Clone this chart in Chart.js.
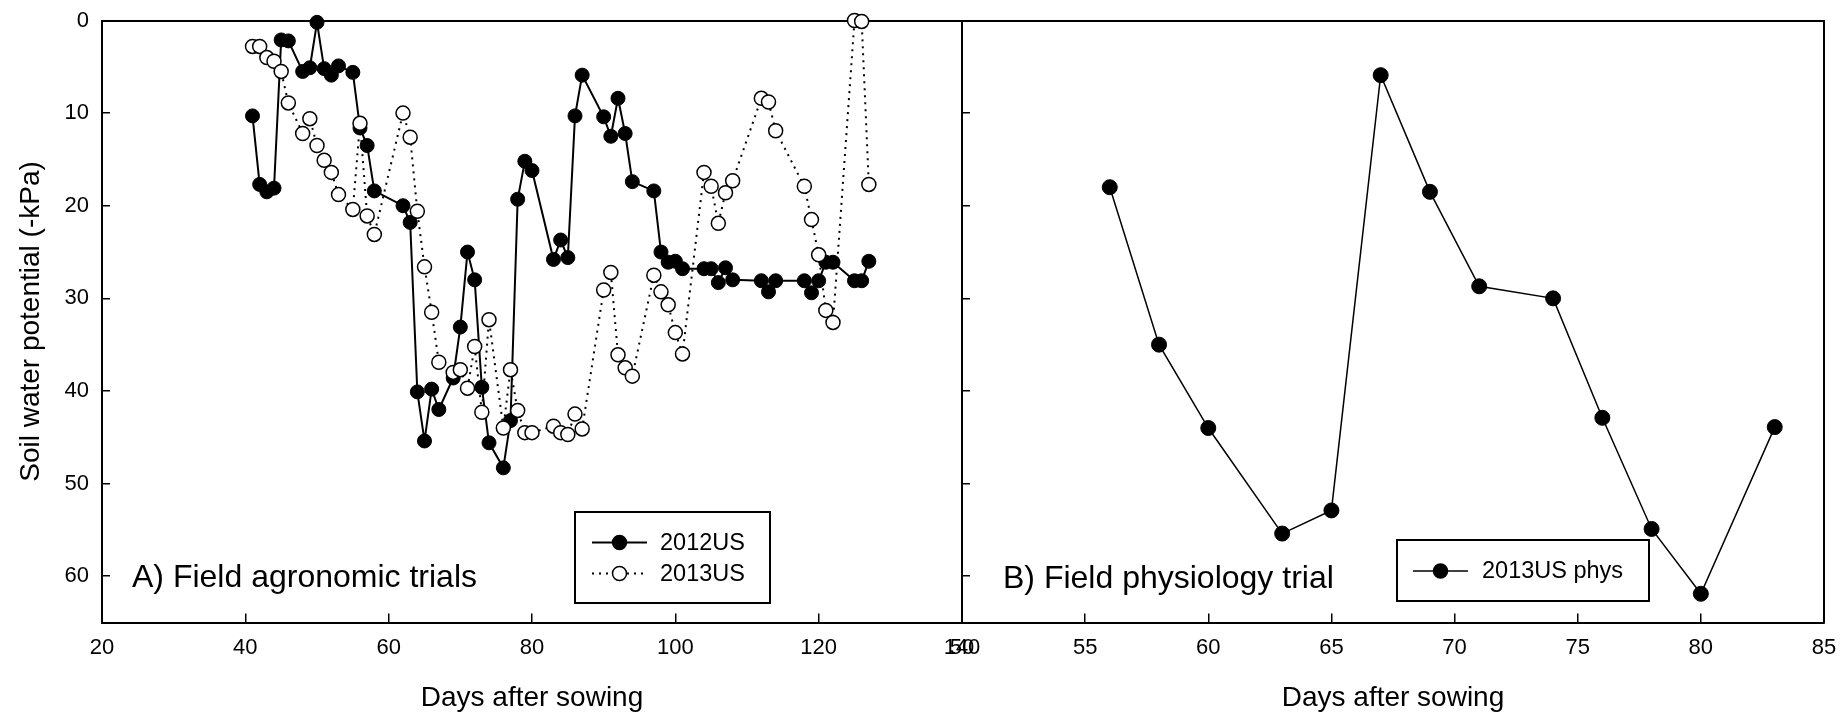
<!DOCTYPE html>
<html>
<head>
<meta charset="utf-8">
<script src="https://cdn.jsdelivr.net/npm/chart.js@4.4.1/dist/chart.umd.min.js"></script>
<style>
  body { margin: 0; background: #fff; }
  #wrap { position: relative; width: 1842px; height: 716px; }
  #wrap canvas { position: absolute; left: 0; top: 0; }
</style>
</head>
<body>
<div id="wrap">
  <canvas id="panelA" width="1842" height="716"></canvas>
  <canvas id="panelB" width="1842" height="716"></canvas>
</div>
<script>
// Panel A - field agronomic trials (both years sampled on the same days)
var daysA = [41, 42, 43, 44, 45, 46, 48, 49, 50, 51, 52, 53, 55, 56, 57, 58,
  62, 63, 64, 65, 66, 67, 69, 70, 71, 72, 73, 74, 76, 77, 78, 79, 80,
  83, 84, 85, 86, 87, 90, 91, 92, 93, 94, 97, 98, 99, 100, 101,
  104, 105, 106, 107, 108, 112, 113, 114, 118, 119, 120, 121, 122, 125, 126, 127];
var swp2012 = [10.3, 17.7, 18.5, 18.1, 2.1, 2.2, 5.5, 5.1, 0.2, 5.2, 5.9, 4.9, 5.6, 11.6, 13.5, 18.4,
  20.0, 21.8, 40.1, 45.4, 39.8, 42.0, 38.6, 33.1, 25.0, 28.0, 39.6, 45.6, 48.3, 43.2, 19.3, 15.2, 16.2,
  25.8, 23.7, 25.6, 10.3, 5.9, 10.4, 12.5, 8.4, 12.2, 17.4, 18.4, 25.0, 26.1, 26.0, 26.8,
  26.8, 26.8, 28.3, 26.7, 28.0, 28.1, 29.3, 28.1, 28.1, 29.4, 28.1, 26.1, 26.1, 28.1, 28.1, 26.0];
var swp2013 = [2.8, 2.8, 4.0, 4.4, 5.5, 8.9, 12.2, 10.6, 13.5, 15.1, 16.4, 18.8, 20.4, 11.1, 21.1, 23.1,
  10.0, 12.6, 20.6, 26.6, 31.5, 36.9, 38.0, 37.7, 39.7, 35.2, 42.3, 32.3, 44.0, 37.7, 42.1, 44.5, 44.5,
  43.8, 44.5, 44.7, 42.5, 44.1, 29.1, 27.2, 36.1, 37.5, 38.4, 27.5, 29.3, 30.7, 33.7, 36.0,
  16.4, 17.9, 21.9, 18.6, 17.3, 8.4, 8.8, 11.9, 17.9, 21.5, 25.3, 31.3, 32.6, 0.0, 0.1, 17.7];

// Panel B - field physiology trial
var daysB = [56, 58, 60, 63, 65, 67, 69, 71, 74, 76, 78, 80, 83];
var swpPhys = [18, 35, 44, 55.4, 52.9, 5.9, 18.5, 28.7, 30, 42.9, 54.9, 61.9, 43.9];

// axis ranges / tick steps
var xTicksA = { min: 20, max: 140, step: 20 };
var xTicksB = { min: 50, max: 85, step: 5 };
var yTicks = { min: 0, max: 65, step: 10 };

var FONT = "'Liberation Sans', Arial, sans-serif";
Chart.defaults.font.family = FONT;
Chart.defaults.color = '#000';

function toPoints(xs, ys) {
  var pts = [];
  for (var i = 0; i < xs.length; i++) {
    pts.push({ x: xs[i], y: ys[i] });
  }
  return pts;
}

// force a scale box to a given thickness so both panels line up,
// and drop the label overflow padding so the plot areas stay put
function fixedSize(size) {
  return function (scale) {
    if (scale.isHorizontal()) scale.height = size;
    else scale.width = size;
    scale.paddingTop = 0;
    scale.paddingBottom = 0;
    scale.paddingLeft = 0;
    scale.paddingRight = 0;
  };
}

function frameAxis(pos, size) {
  return {
    type: 'linear', position: pos, min: 0, max: 1,
    afterFit: fixedSize(size),
    ticks: { display: false },
    grid: { drawOnChartArea: false, drawTicks: false },
    border: { color: '#000', width: 2 }
  };
}

function xAxis(range) {
  return {
    type: 'linear', position: 'bottom', min: range.min, max: range.max,
    afterFit: fixedSize(93.5),
    ticks: { stepSize: range.step, padding: 21, font: { size: 22 }, color: '#000', maxRotation: 0, autoSkip: false },
    grid: { drawOnChartArea: false, tickLength: -9, color: '#000', lineWidth: 1.5 },
    border: { color: '#000', width: 2 },
    title: { display: true, text: 'Days after sowing', font: { size: 28 }, color: '#000', padding: { top: 0, bottom: 1 } }
  };
}

function yAxis(width, showLabels) {
  var ax = {
    type: 'linear', position: 'left', reverse: true, min: yTicks.min, max: yTicks.max,
    afterFit: fixedSize(width),
    ticks: { stepSize: yTicks.step, includeBounds: false, padding: 21, font: { size: 22 }, color: '#000', display: showLabels },
    grid: { drawOnChartArea: false, tickLength: -8, color: '#000', lineWidth: 1.5 },
    border: { color: '#000', width: 2 }
  };
  if (showLabels) {
    ax.title = { display: true, text: 'Soil water potential (-kPa)', font: { size: 28 }, color: '#000', padding: { top: 14, bottom: 0 } };
  }
  return ax;
}

// panel label + boxed legend, drawn on top of the data
function decor(label, box, entries) {
  return {
    id: 'decor',
    afterDatasetsDraw: function (chart) {
      var ctx = chart.ctx;
      ctx.save();
      ctx.fillStyle = '#000';
      ctx.font = '32px ' + FONT;
      ctx.textBaseline = 'alphabetic';
      ctx.fillText(label.text, label.x, label.y);

      ctx.fillStyle = '#fff';
      ctx.fillRect(box.x, box.y, box.w, box.h);
      ctx.strokeStyle = '#000';
      ctx.lineWidth = 2;
      ctx.strokeRect(box.x, box.y, box.w, box.h);

      ctx.font = '23.5px ' + FONT;
      ctx.textBaseline = 'middle';
      for (var i = 0; i < entries.length; i++) {
        var e = entries[i];
        var y = box.y + box.rowY[i];
        var x0 = box.x + box.lineX[0], x1 = box.x + box.lineX[1];
        ctx.beginPath();
        ctx.setLineDash(e.dash || []);
        ctx.lineWidth = e.lineWidth;
        ctx.moveTo(x0, y);
        ctx.lineTo(x1, y);
        ctx.stroke();
        ctx.setLineDash([]);
        ctx.beginPath();
        ctx.arc((x0 + x1) / 2, y, 7, 0, Math.PI * 2);
        ctx.fillStyle = e.fill;
        ctx.fill();
        ctx.lineWidth = 1.5;
        ctx.stroke();
        ctx.fillStyle = '#000';
        ctx.fillText(e.text, box.x + box.textX, y + 1);
      }
      ctx.restore();
    }
  };
}

var chartA = new Chart(document.getElementById('panelA'), {
  type: 'scatter',
  data: {
    datasets: [{
      label: '2012US',
      data: toPoints(daysA, swp2012),
      showLine: true,
      borderColor: '#000',
      borderWidth: 2,
      pointRadius: 7,
      pointBackgroundColor: '#000',
      pointBorderColor: '#000',
      pointBorderWidth: 1,
      clip: false,
      order: 2
    }, {
      label: '2013US',
      data: toPoints(daysA, swp2013),
      showLine: true,
      borderColor: '#000',
      borderWidth: 2,
      borderDash: [2, 5],
      pointRadius: 7,
      pointBackgroundColor: '#fff',
      pointBorderColor: '#000',
      pointBorderWidth: 1.5,
      clip: false,
      order: 1
    }]
  },
  options: {
    responsive: false,
    animation: false,
    layout: { padding: 0 },
    plugins: { legend: { display: false }, tooltip: { enabled: false } },
    scales: {
      x: xAxis(xTicksA),
      y: yAxis(102, true),
      xTop: frameAxis('top', 20.5),
      yRight: frameAxis('right', 880)
    }
  },
  plugins: [decor(
    { text: 'A) Field agronomic trials', x: 132, y: 587 },
    { x: 575, y: 512, w: 195, h: 91, rowY: [30.5, 61.5], lineX: [17, 72], textX: 85 },
    [{ text: '2012US', fill: '#000', lineWidth: 2 },
     { text: '2013US', fill: '#fff', lineWidth: 2, dash: [2, 5] }]
  )]
});

var chartB = new Chart(document.getElementById('panelB'), {
  type: 'scatter',
  data: {
    datasets: [{
      label: '2013US phys',
      data: toPoints(daysB, swpPhys),
      showLine: true,
      borderColor: '#000',
      borderWidth: 1.5,
      pointRadius: 7.5,
      pointBackgroundColor: '#000',
      pointBorderColor: '#000',
      pointBorderWidth: 1,
      clip: false
    }]
  },
  options: {
    responsive: false,
    animation: false,
    layout: { padding: 0 },
    plugins: { legend: { display: false }, tooltip: { enabled: false } },
    scales: {
      x: xAxis(xTicksB),
      y: yAxis(962, false),
      xTop: frameAxis('top', 20.5),
      yRight: frameAxis('right', 18)
    }
  },
  plugins: [decor(
    { text: 'B) Field physiology trial', x: 1003, y: 588 },
    { x: 1397, y: 540, w: 252, h: 61, rowY: [31], lineX: [16, 71], textX: 85 },
    [{ text: '2013US phys', fill: '#000', lineWidth: 1.5 }]
  )]
});
</script>
</body>
</html>
